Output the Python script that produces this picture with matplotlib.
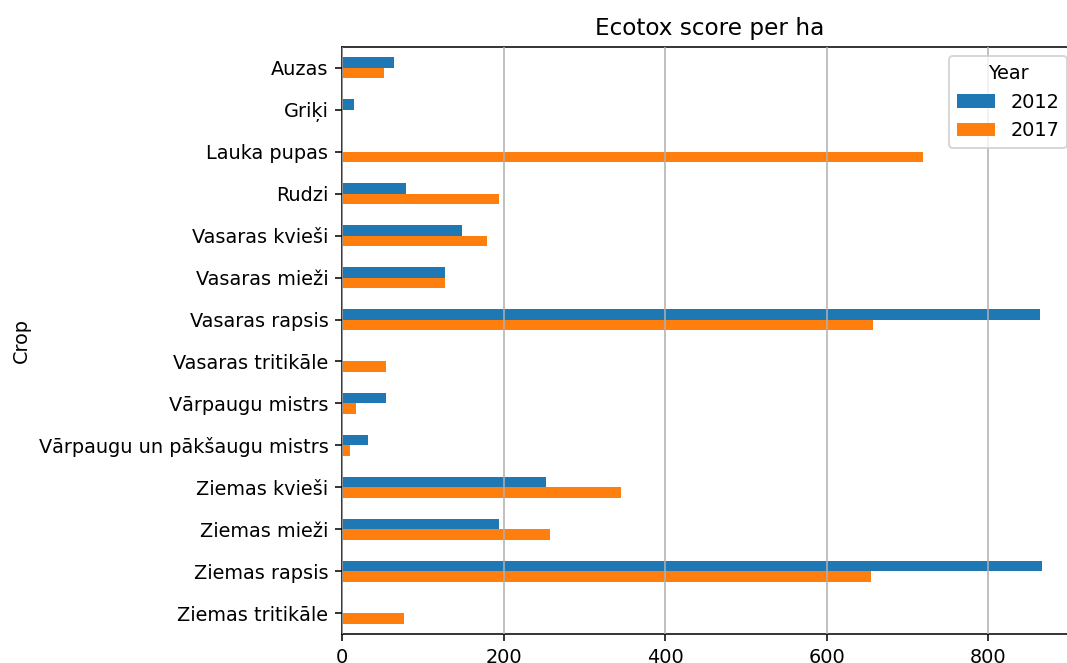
import numpy as np
import matplotlib
matplotlib.use("Agg")
import matplotlib.pyplot as plt

crops = ["Auzas", "Griķi", "Lauka pupas", "Rudzi", "Vasaras kvieši", "Vasaras mieži",
         "Vasaras rapsis", "Vasaras tritikāle", "Vārpaugu mistrs",
         "Vārpaugu un pākšaugu mistrs", "Ziemas kvieši", "Ziemas mieži",
         "Ziemas rapsis", "Ziemas tritikāle"]
years = ["2012", "2017"]
score_2012 = [64, 15, 0, 79, 148, 127, 864, 0, 55, 32, 253, 194, 867, 0]
score_2017 = [52, 0, 719, 194, 179, 127, 657, 55, 17, 10, 345, 258, 655, 77]

plt.rcParams['font.family'] = ['DejaVu Sans']

DPI = 139
W, H = 1067, 663
fig = plt.figure(figsize=(W / DPI, H / DPI), dpi=DPI)
ax = fig.add_axes([342 / W, 1 - 634.3 / H, (1077 - 342) / W, (634.3 - 46.7) / H])

y = np.arange(len(crops))
h = 0.25
ax.barh(y - h / 2, score_2012, height=h, color="#1f77b4", label=years[0])
ax.barh(y + h / 2, score_2017, height=h, color="#ff7f0e", label=years[1])

ax.set_yticks(y)
ax.set_yticklabels(crops)
ax.set_ylim(len(crops) - 0.5, -0.5)
ax.set_xlim(0, 910)
ax.set_xticks([0, 200, 400, 600, 800])
ax.xaxis.grid(True, color="#b0b0b0", linewidth=0.8)
ax.set_axisbelow(False)
ax.set_ylabel("Crop")
ax.set_title("Ecotox score per ha")
ax.legend(title="Year", loc="upper right")

fig.savefig("out.png", dpi=DPI)
